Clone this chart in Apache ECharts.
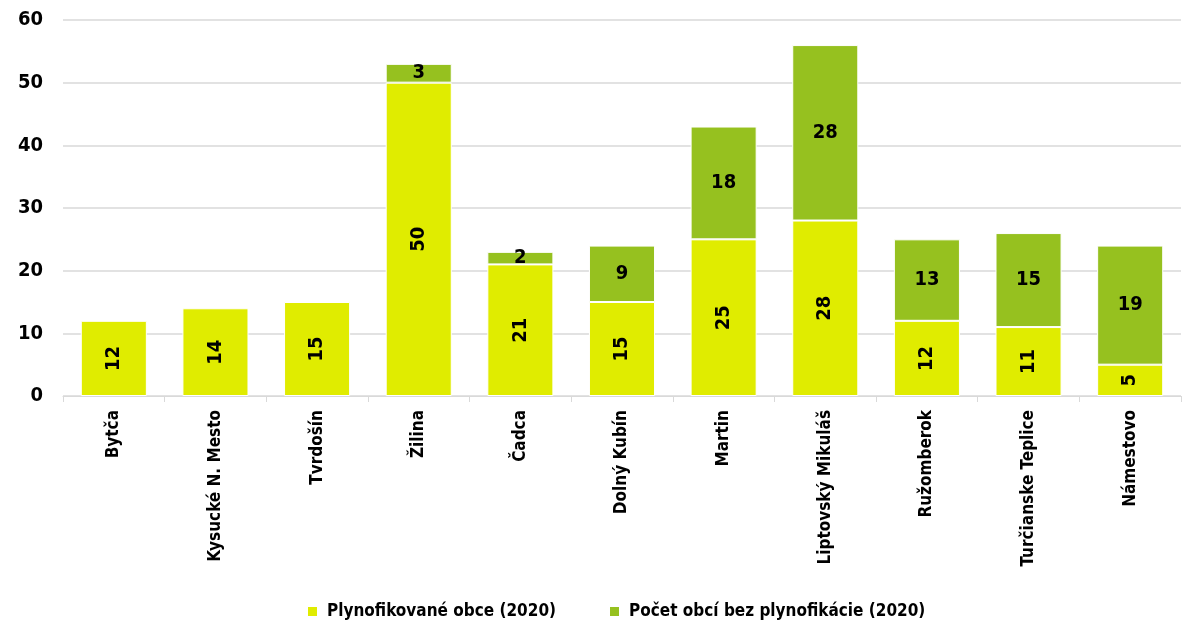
<!DOCTYPE html>
<html><head><meta charset="utf-8">
<script src="https://cdn.jsdelivr.net/npm/echarts@6/dist/echarts.min.js"></script>
<style>html,body{margin:0;padding:0;background:#fff}#c{width:1188px;height:621px}</style>
</head><body><div id="c"></div>
<script>
const categories = ['Bytča','Kysucké N. Mesto','Tvrdošín','Žilina','Čadca','Dolný Kubín','Martin','Liptovský Mikuláš','Ružomberok','Turčianske Teplice','Námestovo'];
const seriesNames = ['Plynofikované obce (2020)','Počet obcí bez plynofikácie (2020)'];
const gasified = [12,14,15,50,21,15,25,28,12,11,5];
const notGasified = [null,null,null,3,2,9,18,28,13,15,19];
const yTicks = {min:0,max:60,interval:10};
const FONT = '"Liberation Sans Narrow", "DejaVu Sans Condensed", "Arial Narrow", sans-serif';
const chart = echarts.init(document.getElementById('c'));
chart.setOption({
  animation:false,
  textStyle:{fontFamily:FONT},
  grid:{left:63,right:7,top:20,bottom:225,containLabel:false},
  legend:{top:598,left:301,itemWidth:11,itemHeight:11,itemGap:52,icon:'rect',
    textStyle:{fontFamily:FONT,fontSize:17,fontWeight:'bold',color:'#000',padding:[0,0,0,4]}},
  xAxis:{type:'category',data:categories,
    axisLine:{lineStyle:{color:'#d9d9d9',width:1}},
    axisTick:{show:true,lineStyle:{color:'#d9d9d9'},length:6},
    axisLabel:{rotate:90,interval:0,margin:14,fontFamily:FONT,fontWeight:'bold',fontSize:17,color:'#000'}},
  yAxis:{type:'value',min:yTicks.min,max:yTicks.max,interval:yTicks.interval,
    axisLine:{show:false},axisTick:{show:false},
    splitLine:{lineStyle:{color:'#d9d9d9',width:1.5}},
    axisLabel:{margin:20,fontFamily:FONT,fontWeight:'bold',fontSize:20,color:'#000'}},
  series:[
    {name:seriesNames[0],type:'bar',stack:'s',data:gasified,barCategoryGap:'35%',
      itemStyle:{color:'#E0EC00',borderColor:'#fff',borderWidth:1},
      label:{show:true,position:'inside',rotate:90,fontFamily:FONT,fontWeight:'bold',fontSize:20,color:'#000'}},
    {name:seriesNames[1],type:'bar',stack:'s',data:notGasified,
      itemStyle:{color:'#96C11F',borderColor:'#fff',borderWidth:1},
      label:{show:true,position:'inside',fontFamily:FONT,fontWeight:'bold',fontSize:20,color:'#000'}}
  ]
});
</script></body></html>
